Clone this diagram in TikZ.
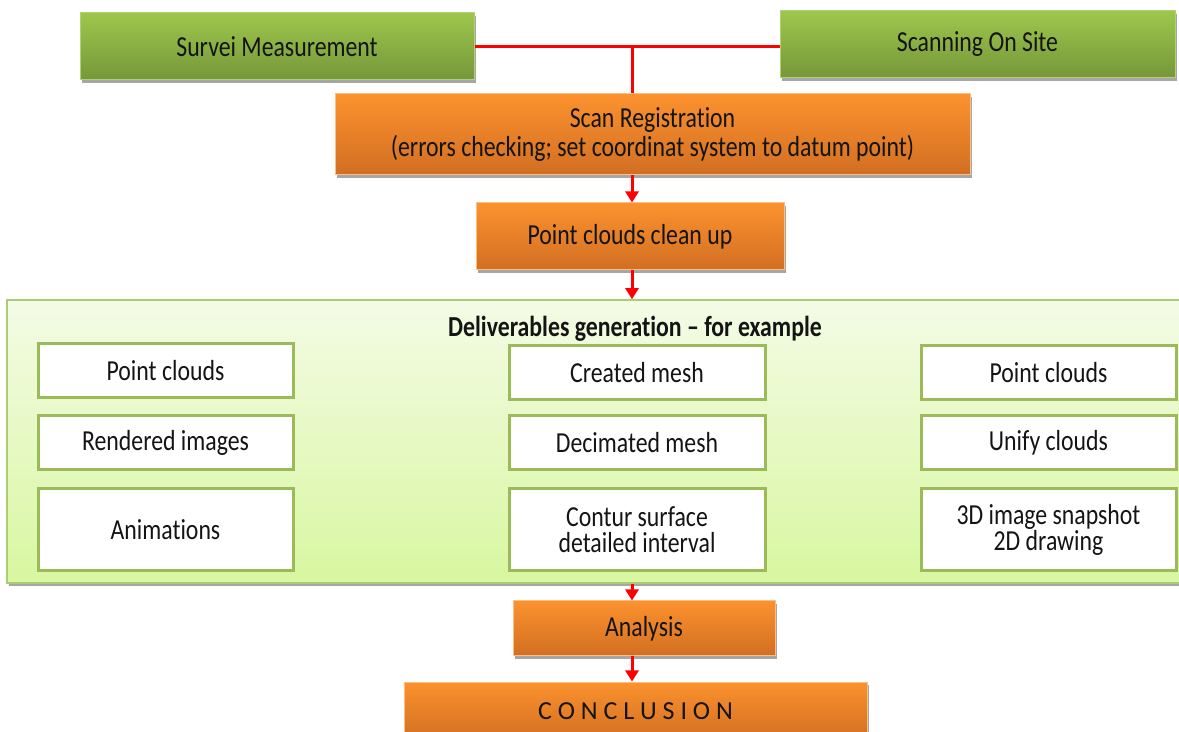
\documentclass[tikz,border=0pt]{standalone}
\usepackage{fontspec}
\setmainfont{Carlito}[FakeStretch=0.82, Ligatures={NoCommon}]
\newfontfamily\conclfont{Carlito}[Ligatures={NoCommon}]
\usetikzlibrary{arrows.meta,shadows,calc}
\definecolor{orT}{HTML}{FC922E}
\definecolor{orB}{HTML}{D16E22}
\definecolor{grT}{HTML}{9DC74C}
\definecolor{grB}{HTML}{76963A}
\definecolor{lgT}{HTML}{F4FBE6}
\definecolor{lgB}{HTML}{D8F7A0}
\definecolor{lgBorder}{HTML}{A9CC74}
\definecolor{inBorder}{HTML}{9BBB59}
\definecolor{shad}{HTML}{A6A6A6}
\definecolor{txt}{HTML}{141414}
\tikzset{
  shd/.style={drop shadow={shadow xshift=0.8pt, shadow yshift=-1.6pt, fill=shad, opacity=1}},
  greenbox/.style={shd, top color=grT, bottom color=grB, draw=grT!80!white, line width=0.5pt,
    inner sep=0pt, align=center, text=txt, font=\fontsize{14.5}{13}\selectfont},
  orangebox/.style={shd, top color=orT, bottom color=orB, draw=orT!60!white, line width=0.5pt,
    inner sep=0pt, align=center, text=txt, font=\fontsize{14.5}{13}\selectfont},
  cont/.style={shd, top color=lgT, bottom color=lgB, draw=lgBorder, line width=0.8pt, inner sep=0pt},
  item/.style={fill=white, draw=inBorder, line width=1.5pt, inner sep=0pt, align=center,
    text=txt, minimum height=27pt, font=\fontsize{14.5}{13}\selectfont},
  redline/.style={draw=red, line width=1.5pt},
  redarrow/.style={redline, -{Triangle[width=6.5pt,length=5.5pt]}}
}
\begin{document}
\begin{tikzpicture}[x=0.5pt,y=-0.5pt]
\clip (0,0) rectangle (1179,732);
\fill[white] (0,0) rectangle (1179,732);
% top boxes
\node[greenbox, minimum width=197pt, minimum height=33.5pt] (survei) at (277,46.5) {Survei Measurement};
\node[greenbox, minimum width=197.5pt, minimum height=33.5pt] (scanning) at (977.5,44.5) {Scanning On Site};
\node[orangebox, minimum width=317.5pt, minimum height=40.5pt] (scanreg) at (652.5,134.5)
  {Scan Registration\\(errors checking; set coordinat system to datum point)};
\node[orangebox, minimum width=154pt, minimum height=33.5pt] (clean) at (630,236.5) {Point clouds clean up};
% container
\node[cont, minimum width=587.5pt, minimum height=141.5pt] (container) at (594.5,441.5) {};
\node[text=txt, inner sep=0pt, font=\bfseries\fontsize{14.5}{13}\selectfont] (title) at (635,329)
  {Deliverables generation -- for example};
% left column
\node[item, minimum width=127.5pt] (l1) at (165.5,371) {Point clouds};
\node[item, minimum width=127.5pt] (l2) at (165.5,443) {Rendered images};
\node[item, minimum width=127.5pt, minimum height=41pt] (l3) at (165.5,530) {Animations};
% middle column
\node[item, minimum width=128pt] (m1) at (637,373) {Created mesh};
\node[item, minimum width=128pt] (m2) at (637,443) {Decimated mesh};
\node[item, minimum width=128pt, minimum height=41pt] (m3) at (637,530) {Contur surface\\detailed interval};
% right column
\node[item, minimum width=127.5pt] (r1) at (1048.5,373) {Point clouds};
\node[item, minimum width=127.5pt] (r2) at (1048.5,443) {Unify clouds};
\node[item, minimum width=127.5pt, minimum height=41pt] (r3) at (1048.5,530) {3D image snapshot\\2D drawing};
% bottom
\node[orangebox, minimum width=131pt, minimum height=27.5pt] (analysis) at (644,628.5) {Analysis};
\node[orangebox, minimum width=231.5pt, minimum height=29pt, font=\conclfont\fontsize{13}{13}\selectfont] (concl) at (635.5,711)
  {C O N C L U S I O N};
% connectors
\coordinate (j) at (632,47);
\draw[redline] (survei.east) -- (survei.east -| scanning.west);
\draw[redline] (j) -- (j |- scanreg.north);
\draw[redarrow] (j |- scanreg.south) -- (j |- clean.north);
\draw[redarrow] (j |- clean.south) -- (j |- container.north);
\draw[redarrow] (j |- container.south) -- (j |- analysis.north);
\draw[redarrow] (j |- analysis.south) -- (j |- concl.north);
\end{tikzpicture}
\end{document}
